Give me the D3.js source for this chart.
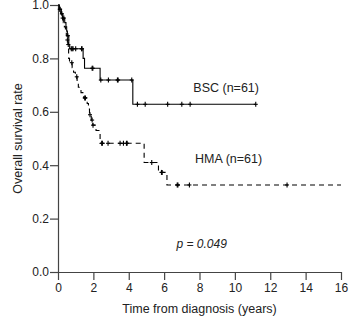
<!DOCTYPE html>
<html><head><meta charset="utf-8">
<script src="https://cdn.jsdelivr.net/npm/d3@7"></script>
<style>
html,body{margin:0;padding:0;background:#fff;}
svg{display:block;font-family:Arial,"Liberation Sans",sans-serif;}
</style></head>
<body><svg id="c" width="354" height="327"></svg>
<script>
// ---- data ----
const xTicks = [0, 2, 4, 6, 8, 10, 12, 14, 16];
const yTicks = [0, 0.2, 0.4, 0.6, 0.8, 1.0];

const bscTimes = [0, 0.07, 0.19, 0.27, 0.38, 0.45, 0.49, 0.53, 0.61, 0.66, 1.42, 1.50, 2.38, 4.23];
const bscSurv  = [1.0, 0.984, 0.967, 0.951, 0.934, 0.918, 0.902, 0.885, 0.852, 0.836, 0.80, 0.763, 0.719, 0.628];
const bscEnd = 11.18;
const bscCensor = [0.10, 0.22, 0.33, 0.56, 0.75, 0.80, 0.85, 1.0, 1.33, 1.36, 1.93, 1.97, 2.42, 2.85, 3.36, 3.40, 4.17, 4.49, 4.93, 6.20, 7.00, 7.47, 11.18];

const hmaTimes = [0, 0.07, 0.15, 0.22, 0.30, 0.36, 0.42, 0.47, 0.52, 0.56, 0.60, 0.65, 0.80, 0.88, 0.98, 1.08, 1.15, 1.30, 1.45, 1.65, 1.72, 1.78, 1.88, 1.96, 2.15, 2.38, 4.87, 5.68, 6.16];
const hmaSurv  = [1.0, 0.984, 0.967, 0.951, 0.934, 0.918, 0.902, 0.885, 0.869, 0.852, 0.80, 0.784, 0.765, 0.748, 0.731, 0.712, 0.692, 0.672, 0.652, 0.631, 0.610, 0.589, 0.569, 0.550, 0.530, 0.482, 0.41, 0.373, 0.326];
const hmaEnd = 16;
const hmaCensor = [0.12, 0.26, 0.53, 0.58, 0.78, 1.06, 1.51, 1.55, 1.81, 1.93, 1.98, 2.47, 2.51, 2.83, 3.51, 3.70, 3.87, 3.91, 5.30, 5.85, 5.89, 6.74, 6.78, 7.43, 12.95];

const seriesLabels = ["BSC (n=61)", "HMA (n=61)"];
const pText = "p = 0.049";

// ---- chart ----
const svg = d3.select("#c");
const x = d3.scaleLinear().domain([0, 16]).range([58, 341]);
const y = d3.scaleLinear().domain([0, 1]).range([272, 5]);
const axisColor = "#444";
const font = "Arial, 'Liberation Sans', sans-serif";

function stepPts(times, surv, end) {
  const pts = times.map((t, i) => [t, surv[i]]);
  pts.push([end, surv[surv.length - 1]]);
  return pts;
}
function survAt(times, surv, t) {
  let v = surv[0];
  for (let i = 0; i < times.length; i++) if (times[i] <= t) v = surv[i];
  return v;
}
const line = d3.line().x(d => x(d[0])).y(d => y(d[1])).curve(d3.curveStepAfter);

// axes
const gx = svg.append("g").attr("transform", `translate(0,${y(0)})`)
  .call(d3.axisBottom(x).tickValues(xTicks).tickFormat(d3.format("d")).tickSize(8).tickSizeOuter(0).tickPadding(3));
const gy = svg.append("g").attr("transform", `translate(${x(0)},0)`)
  .call(d3.axisLeft(y).tickValues(yTicks).tickFormat(d3.format(".1f")).tickSize(8).tickSizeOuter(0).tickPadding(1));
[gx, gy].forEach(g => {
  g.selectAll("path,line").attr("stroke", axisColor).attr("stroke-width", 1.2);
  g.selectAll("text").attr("fill", "#222").style("font-size", "12px").style("font-family", font);
});

// curves
svg.append("path").datum(stepPts(bscTimes, bscSurv, bscEnd))
  .attr("d", line).attr("fill", "none").attr("stroke", "#000").attr("stroke-width", 1.1);
svg.append("path").datum(stepPts(hmaTimes, hmaSurv, hmaEnd))
  .attr("d", line).attr("fill", "none").attr("stroke", "#000").attr("stroke-width", 1.1)
  .attr("stroke-dasharray", "5,4");

// censor marks
function censors(times, surv, cens) {
  const g = svg.append("g").attr("stroke", "#000").attr("stroke-width", 1.1);
  cens.forEach(t => {
    const cx = x(t), cy = y(survAt(times, surv, t));
    g.append("line").attr("x1", cx).attr("x2", cx).attr("y1", cy - 2.5).attr("y2", cy + 2.5);
    g.append("line").attr("x1", cx - 2).attr("x2", cx + 2).attr("y1", cy).attr("y2", cy);
  });
}
censors(bscTimes, bscSurv, bscCensor);
censors(hmaTimes, hmaSurv, hmaCensor);

// labels
const tx = svg.append("g").attr("fill", "#222").style("font-family", font);
tx.append("text").attr("x", x(7.65)).attr("y", y(0.674)).style("font-size", "12.5px").text(seriesLabels[0]);
tx.append("text").attr("x", x(7.75)).attr("y", y(0.408)).style("font-size", "12.5px").text(seriesLabels[1]);
tx.append("text").attr("x", x(6.7)).attr("y", y(0.09)).style("font-size", "12px").style("font-style", "italic").text(pText);

// axis titles
tx.append("text").attr("x", (x(0) + x(16)) / 2).attr("y", 313).attr("text-anchor", "middle")
  .style("font-size", "12.5px").text("Time from diagnosis (years)");
tx.append("text").attr("transform", `translate(22,${(y(0) + y(1)) / 2}) rotate(-90)`).attr("text-anchor", "middle")
  .style("font-size", "12.5px").text("Overall survival rate");
</script></body></html>
